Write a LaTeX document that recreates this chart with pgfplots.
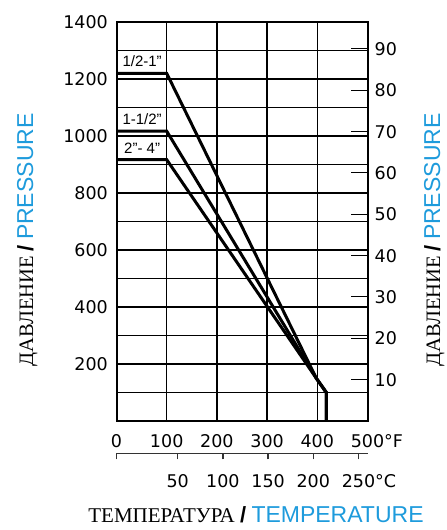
\documentclass[border=0pt]{standalone}
\usepackage{fontspec}
\setmainfont{Liberation Serif}
\newfontfamily\numfont{DejaVu Sans}
\newfontfamily\arial{Liberation Sans}
\usepackage{pgfplots}
\pgfplotsset{compat=1.18}
\definecolor{pblue}{RGB}{30,155,220}

% common look of the tick numbers
\newcommand{\tickfont}{\numfont\fontsize{17.5}{18}\selectfont}
\newcommand{\presslabel}{\fontsize{20.5}{21}\selectfont ДАВЛЕНИЕ {\arial\bfseries\fontsize{22}{22}\selectfont /} {\arial\color{pblue}\fontsize{23}{23}\selectfont PRESSURE}}

\begin{document}
\begin{tikzpicture}[x=1pt,y=1pt]
\useasboundingbox (0,0) rectangle (447,530);

% main chart: psi against deg F
\begin{axis}[
  at={(116.5pt,109pt)}, anchor=south west,
  scale only axis, width=251pt, height=399pt,
  xmin=0, xmax=500, ymin=0, ymax=1400,
  xtick={0,100,200,300,400,500},
  xticklabels={0,100,200,300,400,500\rlap{°F}},
  ytick={200,400,600,800,1000,1200,1400},
  yticklabels={200,400,600,800,1000,1200,1400},
  minor ytick={100,300,500,700,900,1100,1300},
  grid=both,
  grid style={black, line width=1.4pt},
  minor grid style={black, line width=1.4pt},
  axis line style={black, line width=2pt},
  major tick length=0pt, minor tick length=0pt,
  tick label style={font=\tickfont, inner sep=0pt},
  xticklabel style={anchor=base, yshift=-27pt},
  yticklabel style={anchor=east, xshift=-8.5pt},
  clip=false,
]
\addplot[black, line width=3pt] coordinates {(0,1220) (100,1220) (398,150) (418,100) (418,0)};
\addplot[black, line width=3pt] coordinates {(0,1017) (100,1017) (398,150) (418,100) (418,0)};
\addplot[black, line width=3pt] coordinates {(0,917) (100,917) (398,150) (418,100) (418,0)};
\node[font=\arial\fontsize{15}{15}\selectfont, inner sep=0pt] at (axis cs:51,1261) {1/2-1”};
\node[font=\arial\fontsize{15}{15}\selectfont, inner sep=0pt] at (axis cs:51,1060) {1-1/2”};
\node[font=\arial\fontsize{15}{15}\selectfont, inner sep=0pt] at (axis cs:51,958) {2”- 4”};
\end{axis}

% right scale in bar
\begin{axis}[
  at={(116.5pt,109pt)}, anchor=south west,
  scale only axis, width=251pt, height=399pt,
  xmin=0, xmax=500, ymin=0, ymax=96.526,
  hide x axis, axis y line*=right,
  axis line style={black, line width=2pt},
  ytick={10,20,30,40,50,60,70,80,90},
  yticklabels={10,20,30,40,50,60,70,80,90},
  tick align=inside, major tick length=17pt,
  tick style={black, line width=1pt},
  yticklabel style={font=\tickfont, inner sep=0pt, anchor=west, xshift=7pt},
]
\addplot[draw=none] coordinates {(0,0)};
\end{axis}

% deg C scale under the chart
\begin{axis}[
  at={(116.5pt,76.7pt)}, anchor=south west,
  scale only axis, width=251pt, height=10pt,
  xmin=-17.778, xmax=260, ymin=0, ymax=1,
  hide y axis, axis x line*=bottom,
  axis line style={-, line width=1.4pt, black!80},
  xtick={50,100,150,200,250},
  xticklabels={50,100,150,200,250\rlap{°C}},
  extra x ticks={-17.778}, extra x tick labels={},
  tick align=outside, major tick length=6pt,
  tick style={line width=1.4pt, black!80},
  xticklabel style={font=\tickfont, inner sep=0pt, anchor=base, yshift=-28pt},
]
\addplot[draw=none] coordinates {(0,0)};
\end{axis}

\node[anchor=base, rotate=90, inner sep=0pt] at (33,290) {\presslabel};
\node[anchor=base, rotate=90, inner sep=0pt] at (440,290) {\presslabel};
\node[anchor=base, inner sep=0pt] at (256,7) {\fontsize{21}{21}\selectfont ТЕМПЕРАТУРА {\arial\bfseries\fontsize{22}{22}\selectfont /} {\arial\color{pblue}\fontsize{23}{23}\selectfont TEMPERATURE}};
\end{tikzpicture}
\end{document}
